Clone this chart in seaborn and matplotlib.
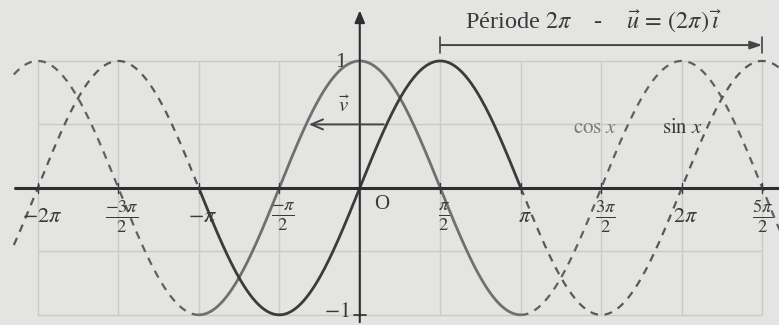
import numpy as np
import pandas as pd
import matplotlib
matplotlib.use("Agg")
import matplotlib.pyplot as plt
import seaborn as sns

# x ranges (radians) for the solid part and the dashed continuations
x_solid = np.linspace(-np.pi, np.pi, 400)
x_left = np.linspace(-6.75, -np.pi, 300)
x_right = np.linspace(np.pi, 8.25, 400)

# tick positions and labels on the x axis (multiples of pi/2)
tick_k = [-4, -3, -2, -1, 1, 2, 3, 4, 5]
tick_labels = [r'$-2\pi$', r'$\frac{-3\pi}{2}$', r'$-\pi$', r'$\frac{-\pi}{2}$',
               r'$\frac{\pi}{2}$', r'$\pi$', r'$\frac{3\pi}{2}$', r'$2\pi$', r'$\frac{5\pi}{2}$']
grid_k = list(range(-4, 6))
grid_y = [-1, -0.5, 0.5, 1]

# translation vector v (cos -> sin) and the period arrow
v_start = np.pi / 6
v_end = -np.pi / 3
v_y = 0.5
period_start = np.pi / 2
period_end = 5 * np.pi / 2

sin_col = '#3b3b3b'
cos_col = '#707070'
grid_col = '#cacac8'
bg = '#e4e4e2'

sns.set_theme(style='white')
plt.rcParams['font.family'] = ['Liberation Serif', 'DejaVu Serif']
plt.rcParams['mathtext.fontset'] = 'stix'

fig = plt.figure(figsize=(7.79, 3.25), dpi=100, facecolor=bg)
ax = fig.add_axes([0, 0, 1, 1], facecolor=bg)
ax.set_xlim(-7.02, 8.18)
ax.set_ylim(-1.08, 1.48)
ax.axis('off')

# grid
gx0, gx1 = grid_k[0] * np.pi / 2, grid_k[-1] * np.pi / 2
for k in grid_k:
    ax.plot([k * np.pi / 2] * 2, [-1, 1], color=grid_col, lw=1.0, zorder=1)
for gy in grid_y:
    ax.plot([gx0, gx1], [gy, gy], color=grid_col, lw=1.0, zorder=1)

# curves
for xs in (x_left, x_right):
    sns.lineplot(x=xs, y=np.cos(xs), ax=ax, color='#606060', lw=1.6,
                 linestyle=(0, (3.5, 3)), zorder=3)
    sns.lineplot(x=xs, y=np.sin(xs), ax=ax, color='#585858', lw=1.6,
                 linestyle=(0, (3.5, 3)), zorder=3)
sns.lineplot(x=x_solid, y=np.cos(x_solid), ax=ax, color=cos_col, lw=2.0, zorder=4)
sns.lineplot(x=x_solid, y=np.sin(x_solid), ax=ax, color=sin_col, lw=2.0, zorder=5)

# axes
ax.plot([-6.72, 8.18], [0, 0], color='#2e2e2e', lw=2.2, zorder=6)
ax.annotate('', xy=(0, 1.42), xytext=(0, -1.08),
            arrowprops=dict(arrowstyle='-|>,head_length=0.6,head_width=0.25',
                            color='#2e2e2e', lw=1.5), zorder=6)
ax.plot([-0.12, 0.12], [-1, -1], color='#2e2e2e', lw=1.2, zorder=6)
for k in tick_k:
    ax.plot([k * np.pi / 2] * 2, [-0.04, 0.04], color='#3a3a3a', lw=1.0, zorder=6)

# tick labels
for k, lab in zip(tick_k, tick_labels):
    fs = 19 if 'frac' in lab else 16
    dx = 0.0 if k == 5 else 0.08
    ax.text(k * np.pi / 2 + dx, -0.23, lab, ha='center', va='center',
            fontsize=fs, color='#3a3a3a', zorder=7)
ax.text(0.42, -0.13, 'O', ha='center', va='center', fontsize=15, color='#3a3a3a')
ax.text(-0.38, 0.99, '1', ha='center', va='center', fontsize=16, color='#3a3a3a')
ax.text(-0.45, -0.98, r'$-1$', ha='center', va='center', fontsize=16, color='#3a3a3a')

# vector v
ax.annotate('', xy=(v_end, v_y), xytext=(v_start, v_y),
            arrowprops=dict(arrowstyle='->,head_length=0.7,head_width=0.3',
                            color='#444444', lw=1.4), zorder=6)
ax.text(-0.3, 0.64, r'$\vec{v}$', ha='center', va='center', fontsize=15, color='#3a3a3a')

# period arrow
py = 1.125
ax.annotate('', xy=(period_end, py), xytext=(period_start, py),
            arrowprops=dict(arrowstyle='-|>,head_length=0.6,head_width=0.2',
                            color='#444444', lw=1.4, shrinkA=0, shrinkB=0), zorder=6)
for px in (period_start, period_end):
    ax.plot([px, px], [py - 0.06, py + 0.06], color='#444444', lw=1.2)
ax.text(2.05, 1.31, r'Période $2\pi$    -    $\vec{u}\,=\,(2\pi)\,\vec{\imath}$',
        ha='left', va='center', fontsize=17.5, color='#3a3a3a')

# curve names
ax.text(4.6, 0.47, r'$\cos\,x$', ha='center', va='center', fontsize=15, color='#7a7a7a')
ax.text(6.3, 0.47, r'$\sin\,x$', ha='center', va='center', fontsize=15, color='#3a3a3a')

fig.savefig('out.png', dpi=100, facecolor=bg)
